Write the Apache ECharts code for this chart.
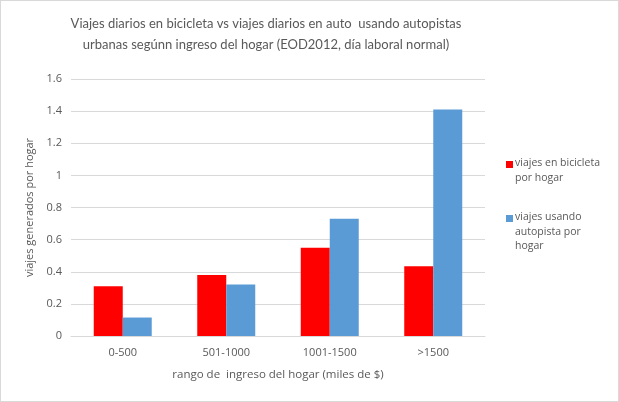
<!DOCTYPE html>
<html>
<head>
<meta charset="utf-8">
<script src="https://cdn.jsdelivr.net/npm/echarts@6/dist/echarts.min.js"></script>
<style>
  html, body { margin: 0; padding: 0; background: #fff; }
  #chart { width: 617px; height: 400px; border: 1px solid #d9d9d9; }
</style>
</head>
<body>
<div id="chart"></div>
<script>
// datos
var categories = ["0-500", "501-1000", "1001-1500", ">1500"];
var bicicleta = [0.31, 0.38, 0.55, 0.435];
var autopista = [0.115, 0.32, 0.73, 1.41];
var seriesNames = ["viajes en bicicleta por hogar", "viajes usando autopista por hogar"];
var legendLines = [["viajes en bicicleta", "por hogar"], ["viajes usando", "autopista por", "hogar"]];
var colors = ["#ff0000", "#5b9bd5"];

var textColor = "#595959";
var font = "Open Sans";

// leyenda a la derecha (icono alineado con la primera línea, como en Excel)
var legendTop = [163, 217];
var legendGraphic = [];
legendLines.forEach(function (lines, i) {
  legendGraphic.push({
    type: "rect",
    left: 505,
    top: legendTop[i] - 3,
    shape: { width: 7, height: 7 },
    style: { fill: colors[i] },
  });
  legendGraphic.push({
    type: "text",
    left: 514,
    top: legendTop[i] - 8,
    style: {
      text: lines.join("\n"),
      fill: textColor,
      font: "10.5px " + font,
      lineHeight: 14.5,
    },
  });
});

var chart = echarts.init(document.getElementById("chart"));
var option = {
  animation: false,
  textStyle: { fontFamily: font },
  title: {
    text: "Viajes diarios en bicicleta vs viajes diarios en auto  usando autopistas\nurbanas segúnn ingreso del hogar (EOD2012, día laboral normal)",
    left: 260,
    top: 7,
    textAlign: "center",
    textStyle: {
      color: textColor,
      fontSize: 13,
      fontWeight: "normal",
      fontFamily: "Lato",
      lineHeight: 21,
    },
  },
  graphic: legendGraphic,
  grid: {
    left: 70,
    right: 133,
    top: 78,
    bottom: 65,
  },
  xAxis: {
    type: "category",
    data: categories,
    name: "rango de  ingreso del hogar (miles de $)",
    nameLocation: "middle",
    nameGap: 33,
    nameTextStyle: { color: textColor, fontSize: 11.5, fontFamily: font },
    axisLine: { lineStyle: { color: "#d9d9d9" } },
    axisTick: { show: false },
    axisLabel: { color: textColor, fontSize: 11, margin: 11 },
  },
  yAxis: {
    type: "value",
    min: 0,
    max: 1.6,
    interval: 0.2,
    name: "viajes generados por hogar",
    nameLocation: "middle",
    nameGap: 31,
    nameTextStyle: { color: textColor, fontSize: 11, fontFamily: font },
    splitLine: { lineStyle: { color: "#d9d9d9" } },
    axisLine: { show: false },
    axisTick: { show: false },
    axisLabel: {
      color: textColor,
      fontSize: 11,
      margin: 9,
      formatter: function (v) {
        return String(Math.round(v * 10) / 10);
      },
    },
  },
  series: [
    {
      name: seriesNames[0],
      type: "bar",
      data: bicicleta,
      barWidth: 29,
      barGap: "0%",
      itemStyle: { color: colors[0] },
    },
    {
      name: seriesNames[1],
      type: "bar",
      data: autopista,
      barWidth: 29,
      barGap: "0%",
      itemStyle: { color: colors[1] },
    },
  ],
};
chart.setOption(option);
</script>
</body>
</html>
